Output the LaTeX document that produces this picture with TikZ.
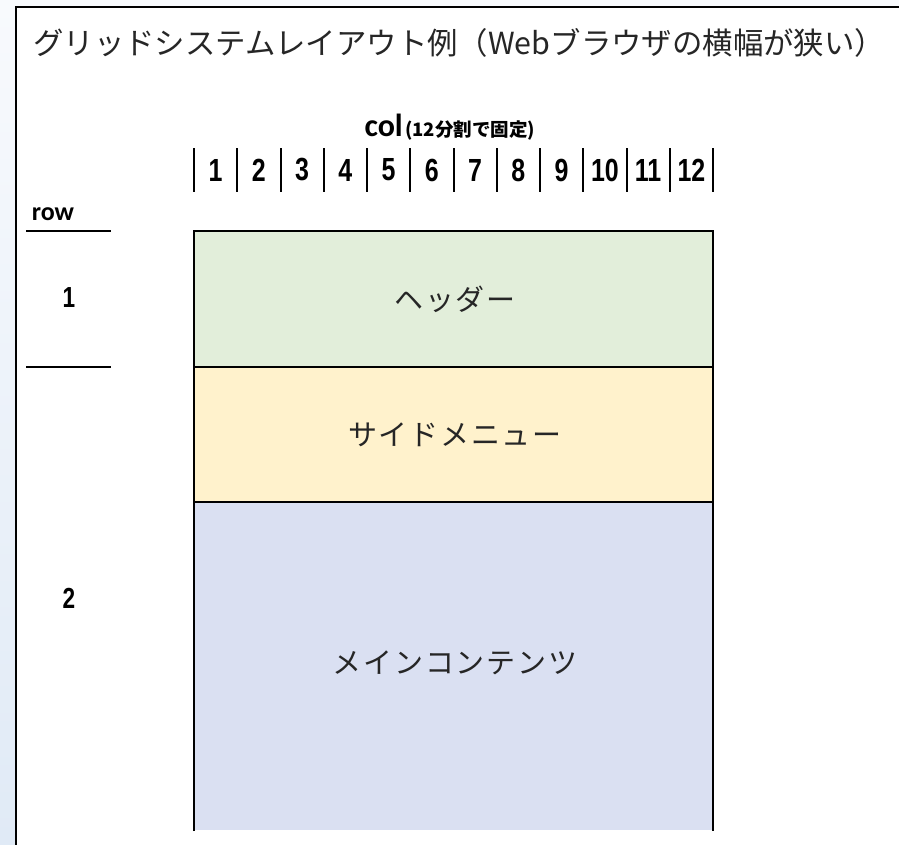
\documentclass[tikz,border=0pt]{standalone}
\usepackage{fontspec}
\setmainfont{Noto Sans CJK JP}
\newfontfamily\jp{Noto Sans CJK JP}
\newfontfamily\jpl[LetterSpace=6]{Noto Sans CJK JP}
\newfontfamily\numf[FakeStretch=0.78]{Liberation Sans}
\newfontfamily\calf{Carlito}
\definecolor{hdr}{HTML}{E2EEDA}
\definecolor{side}{HTML}{FFF2CC}
\definecolor{mainc}{HTML}{DAE0F2}
\definecolor{bgtop}{HTML}{F8FAFD}
\definecolor{bgbot}{HTML}{E0EAF6}
\tikzset{
  area/.style={draw=black, line width=2.4pt, inner sep=0pt, minimum width=519pt},
  lbl/.style={font=\jpl\fontsize{29}{32}\selectfont, text=black!85},
  numlbl/.style={font=\numf\bfseries\fontsize{32}{34}\selectfont, inner sep=0pt},
  bar/.style={line width=2pt},
  rowline/.style={line width=2pt}
}
\begin{document}
\begin{tikzpicture}[x=1pt,y=-1pt]
\useasboundingbox (0,0) rectangle (899,844);
% background
\shade[top color=bgtop, bottom color=bgbot] (0,0) rectangle (899,844);
\fill[white] (16,7) rectangle (910,860);
\draw[line width=2pt] (16,860) -- (16,7) -- (910,7);
% title
\node[anchor=west, font=\jp\fontsize{30.4}{33}\selectfont, text=black!85, inner sep=0pt] (title) at (33,43) {グリッドシステムレイアウト例（Webブラウザの横幅が狭い）};
% col label
\node[anchor=base east, inner sep=0pt, font=\calf\bfseries\fontsize{32}{34}\selectfont] (col) at (403,136) {col};
\node[anchor=base west, inner sep=0pt, font=\jp\bfseries\fontsize{18.5}{19}\selectfont] (colnote) at (405,136) {(12分割で固定)};
% column bars and numbers
\foreach \i in {0,...,12} {
  \coordinate (bt\i) at ({194+43.25*\i},148);
  \coordinate (bb\i) at ({194+43.25*\i},192);
  \draw[bar] (bt\i) -- (bb\i);
}
\foreach \i in {1,...,12} {
  \node[numlbl] (n\i) at ({194+43.25*\i-21.6},170) {\i};
}
% row labels
\node[font=\calf\bfseries\fontsize{26}{28}\selectfont, inner sep=0pt, anchor=base] (row) at (53,220) {row};
\coordinate (r1a) at (26,231); \coordinate (r1b) at (111,231);
\coordinate (r2a) at (26,367); \coordinate (r2b) at (111,367);
\draw[rowline] (r1a) -- (r1b);
\draw[rowline] (r2a) -- (r2b);
\node[numlbl, font=\numf\bfseries\fontsize{29}{30}\selectfont] (row1) at (69,298) {1};
\node[numlbl, font=\numf\bfseries\fontsize{29}{30}\selectfont] (row2) at (69,598) {2};
% areas
\fill[mainc] (194,502) rectangle (713,830);
\draw[line width=2.4pt] (194,831) -- (194,502) -- (713,502) -- (713,831);
\node[inner sep=0pt, minimum width=519pt, minimum height=328pt] (mainarea) at (453.5,666) {};
\node[lbl] (mainlbl) at (455,663) {メインコンテンツ};
\node[area, fill=side, minimum height=135pt] (sidearea) at (453.5,434.5) {};
\node[lbl] at ([xshift=1.5pt]sidearea.center) {サイドメニュー};
\node[area, fill=hdr, minimum height=136pt] (header) at (453.5,299) {};
\node[lbl] at ([xshift=1.5pt]header.center) {ヘッダー};
\end{tikzpicture}
\end{document}
